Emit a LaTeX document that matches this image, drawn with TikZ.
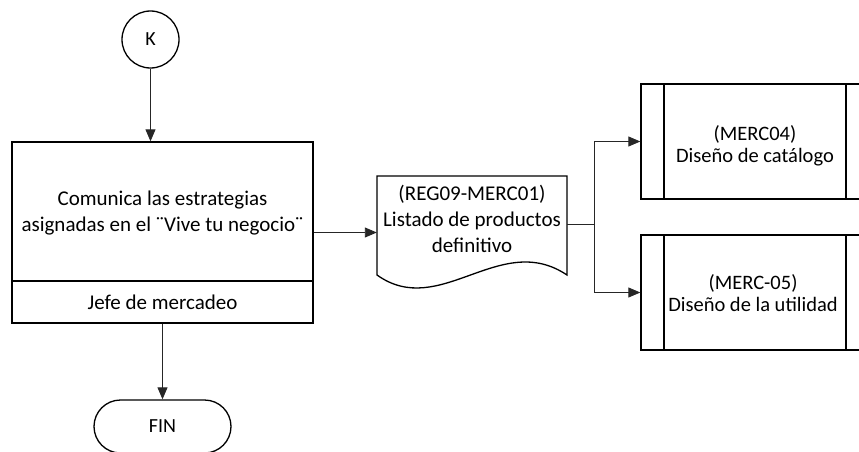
\documentclass[tikz,border=0pt]{standalone}
\usepackage{fontspec}
\setmainfont{Carlito}
\usetikzlibrary{arrows.meta}
\begin{document}
\begin{tikzpicture}[x=1pt,y=-1pt,
  box/.style={draw,line width=1.3pt,inner sep=0pt},
  conn/.style={line width=0.9pt,draw=black!85,-{Triangle[length=12pt,width=10pt]}},
  plain/.style={line width=0.9pt,draw=black!85},
  txt/.style={font=\fontsize{21}{26}\selectfont,align=center,inner sep=0pt},
  btxt/.style={font=\fontsize{20.5}{21.5}\selectfont,align=center,inner sep=0pt}]
\useasboundingbox (0,0) rectangle (859,452);
\begin{scope}
\clip (0,0) rectangle (859,452);
% K connector
\node[draw,circle,line width=1.3pt,minimum size=57pt,inner sep=0pt,font=\fontsize{20}{24}\selectfont] (k) at (150.5,39.5) {K};
% main process box
\node[box,minimum width=301pt,minimum height=181pt] (main) at (162.5,232.5) {};
\draw[line width=1.3pt] (12,281) -- (313,281);
\node[txt] (maintxt) at (162.5,213) {Comunica las estrategias\\asignadas en el ¨Vive tu negocio¨};
\node[txt] (role) at (162.5,302) {Jefe de mercadeo};
% FIN terminator
\node[draw,line width=1.3pt,rounded corners=26.5pt,minimum width=137pt,minimum height=53pt,inner sep=0pt,font=\fontsize{20}{24}\selectfont] (fin) at (162.5,426.5) {FIN};
% document
\draw[line width=1.3pt] (377,176) -- (567,176) -- (567,275)
  .. controls (500,230) and (440,320) .. (377,275) -- cycle;
\node[inner sep=0pt,minimum width=190pt,minimum height=113pt] (doc) at (472,232.5) {};
\node[txt] (doctxt) at (472,219) {(REG09-MERC01)\\Listado de productos\\definitivo};
% predefined process boxes
\node[box,minimum width=228pt,minimum height=115pt] (p1) at (755,141.5) {};
\draw[line width=1.3pt] (664,84) -- (664,199) (846,84) -- (846,199);
\node[btxt] (p1txt) at (755,146) {(MERC04)\\Diseño de catálogo};
\node[box,minimum width=228pt,minimum height=115pt] (p2) at (755,292.5) {};
\draw[line width=1.3pt] (664,235) -- (664,350) (846,235) -- (846,350);
\node[btxt] (p2txt) at (753,293) {(MERC-05)\\Diseño de la utilidad};
% connectors
\draw[conn] (k.south) -- (k.south |- main.north);
\draw[conn] (main.south) -- (fin.north);
\draw[conn] (main.east) -- (doc.west);
\coordinate (j) at (594,224);
\draw[plain] (567,224) -- (j);
\draw[conn] (j) |- (p1.west);
\draw[conn] (j) |- (p2.west);
\end{scope}
\end{tikzpicture}
\end{document}
